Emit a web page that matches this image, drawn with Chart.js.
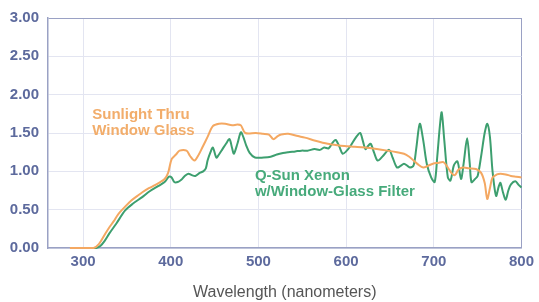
<!DOCTYPE html>
<html>
<head>
<meta charset="utf-8">
<script src="https://cdn.jsdelivr.net/npm/chart.js@4/dist/chart.umd.min.js"></script>
<style>
html,body{margin:0;padding:0;background:#fff;}
#wrap{width:539px;height:302px;}
</style>
</head>
<body>
<div id="wrap"><canvas id="c" width="539" height="302"></canvas></div>
<script>
// ---- data ----
const sunWavelengths = [285,300,312,318,325,330,335,340,348,355,362,368,375,382,388,393,397,401,406,410,418,422,427,432,436,442,448,455,462,470,476,480,485,497,505,512,517,522,526,534,545,553,565,579,590,598,610,621,635,647,658,666,672,677,682,688,693,699,705,711,716,720,724,728,733,740,748,754,758,761,764,767,772,776,782,788,794,800];
const sunValues = [0,0,0,0.05,0.18,0.27,0.35,0.44,0.54,0.62,0.68,0.73,0.78,0.82,0.86,0.90,0.98,1.16,1.22,1.27,1.27,1.20,1.14,1.22,1.31,1.45,1.59,1.62,1.62,1.60,1.61,1.60,1.50,1.50,1.49,1.48,1.42,1.46,1.48,1.49,1.46,1.44,1.40,1.36,1.34,1.33,1.32,1.31,1.29,1.27,1.25,1.23,1.19,1.14,1.09,1.05,1.07,1.10,1.11,1.12,1.05,0.98,0.95,1.02,1.05,1.04,1.03,0.98,0.85,0.64,0.78,0.92,0.96,0.97,0.96,0.94,0.93,0.92];

const qsunWavelengths = [310,315,320,325,330,338,348,357,367,376,386,393,398,401,404,408,412,416,420,424,428,433,437,440,442,445,448,452,455,459,463,467,470,472,476,480,483,486,490,496,506,514,521,528,534,542,549,556,564,570,575,580,585,588,592,596,600,605,611,616,619,622,625,628,632,636,642,649,653,658,662,666,670,673,677,680,684,688,692,697,701,704,707,709,712,716,719,723,727,731,734,738,741,743,747,750,754,758,761,764,767,771,774,776,779,782,785,788,793,797,800];
const qsunValues = [0,0,0.03,0.10,0.19,0.32,0.49,0.58,0.66,0.74,0.81,0.86,0.93,0.92,0.86,0.86,0.89,0.94,0.97,0.95,0.94,0.98,1.00,1.04,1.14,1.24,1.31,1.18,1.22,1.29,1.36,1.42,1.30,1.23,1.36,1.51,1.44,1.34,1.24,1.18,1.18,1.19,1.22,1.24,1.25,1.26,1.27,1.27,1.29,1.28,1.31,1.30,1.38,1.41,1.33,1.23,1.26,1.33,1.44,1.50,1.40,1.29,1.33,1.36,1.24,1.14,1.20,1.28,1.18,1.05,1.07,1.10,1.07,1.05,1.08,1.30,1.62,1.40,1.10,0.92,0.86,1.20,1.60,1.77,1.40,0.92,0.88,1.08,1.13,0.90,1.10,1.43,1.10,0.86,0.90,0.94,1.20,1.50,1.62,1.45,1.00,0.68,0.80,0.85,0.72,0.63,0.75,0.83,0.87,0.82,0.79];

const xTickValues = [300,400,500,600,700,800];
const yTickValues = [0,0.5,1,1.5,2,2.5,3];
const seriesNames = ['Sunlight Thru Window Glass','Q-Sun Xenon w/Window-Glass Filter'];
const annotationSun = ['Sunlight Thru','Window Glass'];
const annotationQsun = ['Q-Sun Xenon','w/Window-Glass Filter'];
const xTitle = 'Wavelength (nanometers)';

const toPts = (xs, ys) => xs.map((x,i)=>({x:x, y:ys[i]}));

const labelPlugin = {
  id:'labels',
  afterDatasetsDraw(chart){
    const ctx = chart.ctx;
    const xs = chart.scales.x, ys = chart.scales.y;
    ctx.save();
    ctx.font = 'bold 15px "Liberation Sans", Arial, sans-serif';
    ctx.textAlign = 'left';
    ctx.textBaseline = 'alphabetic';
    ctx.fillStyle = '#f2ad6b';
    ctx.fillText(annotationSun[0], xs.getPixelForValue(310.5), ys.getPixelForValue(1.68));
    ctx.fillText(annotationSun[1], xs.getPixelForValue(310.5), ys.getPixelForValue(1.47));
    ctx.fillStyle = '#47aa7b';
    ctx.fillText(annotationQsun[0], xs.getPixelForValue(496), ys.getPixelForValue(0.89));
    ctx.fillText(annotationQsun[1], xs.getPixelForValue(496), ys.getPixelForValue(0.68));
    ctx.restore();
  }
};

const frameColor = '#9aa1c4';
const gridColor = '#e3e5f1';
const tickColor = '#5d6a9d';

new Chart(document.getElementById('c'), {
  type:'line',
  data:{
    datasets:[
      {label:seriesNames[0], data:toPts(sunWavelengths, sunValues), borderColor:'#f4a862', borderWidth:2, pointRadius:0, tension:0.3, fill:false, clip:5},
      {label:seriesNames[1], data:toPts(qsunWavelengths, qsunValues), borderColor:'#3d9f6f', borderWidth:2, pointRadius:0, tension:0.3, fill:false, clip:5}
    ]
  },
  options:{
    responsive:false,
    animation:false,
    devicePixelRatio:1,
    layout:{padding:{top:16,right:14,left:0,bottom:0}},
    plugins:{legend:{display:false}, tooltip:{enabled:false}},
    scales:{
      x:{
        type:'linear', min:260, max:800,
        afterBuildTicks(axis){ axis.ticks = xTickValues.map(v=>({value:v})); },
        afterFit(scale){ scale.height = 54; },
        grid:{drawTicks:false, color:(c)=> c.tick && c.tick.value===800 ? frameColor : gridColor, lineWidth:1},
        border:{color:frameColor, width:1.5},
        ticks:{padding:5, color:tickColor, font:{family:'"Liberation Sans", Arial, sans-serif', size:15, weight:'bold'}, callback:(v)=>String(v)},
        title:{display:true, text:xTitle, color:'#555', padding:{top:0,bottom:0}, font:{family:'"Liberation Sans", Arial, sans-serif', size:16, weight:'normal'}}
      },
      y:{
        type:'linear', min:0, max:3,
        afterBuildTicks(axis){ axis.ticks = yTickValues.map(v=>({value:v})); },
        afterFit(scale){ scale.width = 48; },
        grid:{drawTicks:false, color:(c)=> c.tick && c.tick.value===3 ? frameColor : gridColor, lineWidth:1},
        border:{color:frameColor, width:1.5},
        ticks:{padding:9, color:tickColor, font:{family:'"Liberation Sans", Arial, sans-serif', size:15, weight:'bold'}, callback:(v)=>Number(v).toFixed(2)}
      }
    }
  },
  plugins:[labelPlugin]
});
</script>
</body>
</html>
